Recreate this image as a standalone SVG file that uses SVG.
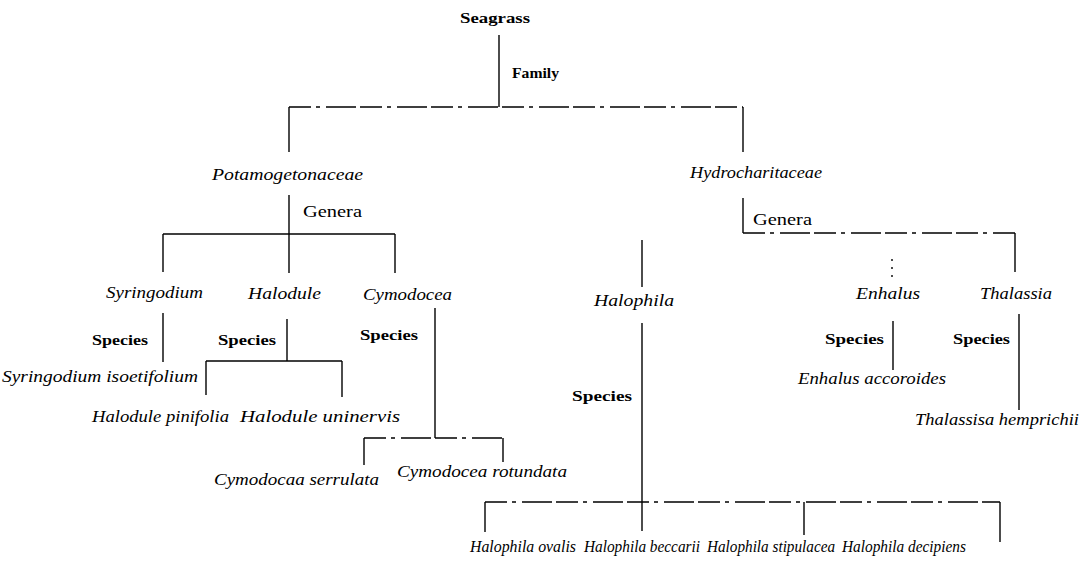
<svg xmlns="http://www.w3.org/2000/svg" width="1092" height="565" viewBox="0 0 1092 565">
<style>
  .bg{fill:#ffffff}
  .ln{stroke:#000;stroke-width:1.4;fill:none}
  .br{stroke:#000;stroke-width:1.4;fill:none;stroke-dasharray:22 5 4 6 30 4}
  .dot{stroke:#000;stroke-width:1.4;fill:none;stroke-dasharray:2 6}
  .it{font-family:"Liberation Serif","Times New Roman",serif;font-style:italic;font-size:16px;fill:#000}
  .bd{font-family:"Liberation Serif","Times New Roman",serif;font-weight:bold;font-size:15px;fill:#000}
  .rg{font-family:"Liberation Serif","Times New Roman",serif;font-size:16px;fill:#000}
</style>
<rect class="bg" width="1092" height="565"/>
<g id="connectors">
  <line class="ln" x1="499" y1="35" x2="499" y2="107"/>
  <line class="br" x1="289" y1="107" x2="743" y2="107"/>
  <line class="ln" x1="289" y1="107" x2="289" y2="152"/>
  <line class="ln" x1="743" y1="107" x2="743" y2="152"/>
  <line class="ln" x1="289" y1="195" x2="289" y2="273"/>
  <line class="ln" x1="163" y1="234" x2="395" y2="234"/>
  <line class="ln" x1="163" y1="234" x2="163" y2="272"/>
  <line class="ln" x1="395" y1="234" x2="395" y2="273"/>
  <line class="ln" x1="163" y1="313" x2="163" y2="362"/>
  <line class="ln" x1="287" y1="319" x2="287" y2="361"/>
  <line class="ln" x1="206" y1="361" x2="342" y2="361"/>
  <line class="ln" x1="206" y1="361" x2="206" y2="395"/>
  <line class="ln" x1="342" y1="361" x2="342" y2="397"/>
  <line class="ln" x1="435" y1="308" x2="435" y2="438"/>
  <line class="br" x1="364" y1="438" x2="503" y2="438"/>
  <line class="ln" x1="364" y1="438" x2="364" y2="465"/>
  <line class="ln" x1="503" y1="438" x2="503" y2="462"/>
  <line class="ln" x1="743" y1="198" x2="743" y2="233"/>
  <line class="br" x1="743" y1="233" x2="1015" y2="233"/>
  <line class="ln" x1="1015" y1="233" x2="1015" y2="272"/>
  <line class="dot" x1="892" y1="259" x2="892" y2="278"/>
  <line class="ln" x1="642" y1="240" x2="642" y2="287"/>
  <line class="ln" x1="893" y1="321" x2="893" y2="370"/>
  <line class="ln" x1="1019" y1="314" x2="1019" y2="410"/>
  <line class="ln" x1="642" y1="323" x2="642" y2="502"/>
  <line class="br" x1="485" y1="502" x2="1000" y2="502"/>
  <line class="ln" x1="485" y1="502" x2="485" y2="532"/>
  <line class="ln" x1="642" y1="502" x2="642" y2="531"/>
  <line class="ln" x1="804" y1="502" x2="804" y2="535"/>
  <line class="ln" x1="1000" y1="502" x2="1000" y2="542"/>
</g>
<g id="seagrass"><text class="bd" x="460" y="23" textLength="70" lengthAdjust="spacingAndGlyphs">Seagrass</text></g>
<g id="label-family"><text class="bd" x="512" y="78" font-size="17" textLength="47" lengthAdjust="spacingAndGlyphs">Family</text></g>
<g id="potamogetonaceae"><text class="it" x="212" y="180" textLength="151" lengthAdjust="spacingAndGlyphs">Potamogetonaceae</text></g>
<g id="hydrocharitaceae"><text class="it" x="690" y="178" textLength="132" lengthAdjust="spacingAndGlyphs">Hydrocharitaceae</text></g>
<g id="label-genera-1"><text class="rg" x="303" y="217" textLength="59" lengthAdjust="spacingAndGlyphs">Genera</text></g>
<g id="label-genera-2"><text class="rg" x="753" y="225" textLength="59" lengthAdjust="spacingAndGlyphs">Genera</text></g>
<g id="syringodium"><text class="it" x="106" y="298" textLength="97" lengthAdjust="spacingAndGlyphs">Syringodium</text></g>
<g id="halodule"><text class="it" x="248" y="299" textLength="73" lengthAdjust="spacingAndGlyphs">Halodule</text></g>
<g id="cymodocea"><text class="it" x="363" y="300" textLength="89" lengthAdjust="spacingAndGlyphs">Cymodocea</text></g>
<g id="halophila"><text class="it" x="594" y="306" textLength="80" lengthAdjust="spacingAndGlyphs">Halophila</text></g>
<g id="enhalus"><text class="it" x="856" y="299" textLength="64" lengthAdjust="spacingAndGlyphs">Enhalus</text></g>
<g id="thalassia"><text class="it" x="980" y="299" textLength="72" lengthAdjust="spacingAndGlyphs">Thalassia</text></g>
<g id="label-species-1"><text class="bd" x="92" y="345" textLength="56" lengthAdjust="spacingAndGlyphs">Species</text></g>
<g id="label-species-2"><text class="bd" x="218" y="345" textLength="58" lengthAdjust="spacingAndGlyphs">Species</text></g>
<g id="label-species-3"><text class="bd" x="360" y="340" textLength="58" lengthAdjust="spacingAndGlyphs">Species</text></g>
<g id="label-species-4"><text class="bd" x="572" y="401" textLength="60" lengthAdjust="spacingAndGlyphs">Species</text></g>
<g id="label-species-5"><text class="bd" x="825" y="344" textLength="59" lengthAdjust="spacingAndGlyphs">Species</text></g>
<g id="label-species-6"><text class="bd" x="953" y="344" textLength="57" lengthAdjust="spacingAndGlyphs">Species</text></g>
<g id="syringodium-isoetifolium"><text class="it" x="2" y="382" textLength="196" lengthAdjust="spacingAndGlyphs">Syringodium isoetifolium</text></g>
<g id="halodule-pinifolia"><text class="it" x="92" y="422" textLength="137" lengthAdjust="spacingAndGlyphs">Halodule pinifolia</text></g>
<g id="halodule-uninervis"><text class="it" x="240" y="422" textLength="160" lengthAdjust="spacingAndGlyphs">Halodule uninervis</text></g>
<g id="cymodocea-serrulata"><text class="it" x="214" y="485" textLength="165" lengthAdjust="spacingAndGlyphs">Cymodocaa serrulata</text></g>
<g id="cymodocea-rotundata"><text class="it" x="397" y="477" textLength="170" lengthAdjust="spacingAndGlyphs">Cymodocea rotundata</text></g>
<g id="enhalus-accoroides"><text class="it" x="798" y="384" textLength="148" lengthAdjust="spacingAndGlyphs">Enhalus accoroides</text></g>
<g id="thalassia-hemprichii"><text class="it" x="915" y="425" textLength="164" lengthAdjust="spacingAndGlyphs">Thalassisa hemprichii</text></g>
<g id="halophila-ovalis"><text class="it" x="470" y="552" textLength="106" lengthAdjust="spacingAndGlyphs">Halophila ovalis</text></g>
<g id="halophila-beccarii"><text class="it" x="584" y="552" textLength="116" lengthAdjust="spacingAndGlyphs">Halophila beccarii</text></g>
<g id="halophila-stipulacea"><text class="it" x="707" y="552" textLength="128" lengthAdjust="spacingAndGlyphs">Halophila stipulacea</text></g>
<g id="halophila-decipiens"><text class="it" x="842" y="552" textLength="124" lengthAdjust="spacingAndGlyphs">Halophila decipiens</text></g>
</svg>
